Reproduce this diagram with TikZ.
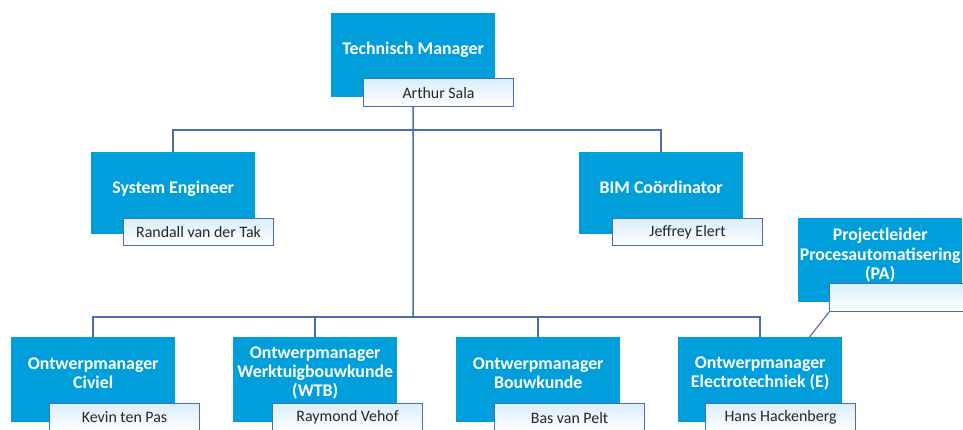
\documentclass[tikz,border=0pt]{standalone}
\usepackage{fontspec}
\setmainfont{Carlito}
\usetikzlibrary{calc}
\definecolor{boxblue}{HTML}{009FDB}
\definecolor{linec}{HTML}{4A6CB3}
\definecolor{lightb}{HTML}{D9EEFB}
\tikzset{
  rolebox/.style={fill=boxblue, draw=none, anchor=north west, inner sep=0pt,
    minimum width=164pt, minimum height=84pt},
  roletext/.style={text=white, font=\fontsize{17.8}{19.3}\selectfont\bfseries, align=center, inner sep=0pt},
  namebox/.style={draw=linec, line width=1.1pt, top color=lightb, bottom color=white,
    anchor=north west, inner sep=0pt, minimum width=150pt, minimum height=28pt,
    font=\fontsize{15.9}{18}\selectfont, text=black!85},
  conn/.style={draw=linec, line width=1.5pt}
}
\begin{document}
\begin{tikzpicture}[x=1pt,y=-1pt]
\useasboundingbox (0,0) rectangle (963,430);
\clip (0,0) rectangle (963,430);
\fill[white] (0,0) rectangle (963,430);
% coordinates of the buses
\coordinate (bus1) at (413,130);
\coordinate (bus2) at (413,317);
% boxes
\node[rolebox] (tm) at (331,13) {};
\node[rolebox, minimum height=82pt] (se) at (91,152) {};
\node[rolebox, minimum height=82pt] (bim) at (579,152) {};
\node[rolebox] (pa) at (798,218) {};
\node[rolebox, minimum height=85pt] (civ) at (11,337) {};
\node[rolebox, minimum height=85pt] (wtb) at (233,337) {};
\node[rolebox, minimum height=85pt] (bk) at (456,337) {};
\node[rolebox, minimum height=85pt] (el) at (678,337) {};
% connectors
\draw[conn] (tm.south) -- (bus2);
\draw[conn] (se.north) |- (bus1) -| (bim.north);
\draw[conn] (civ.north) |- (bus2) -| (el.north);
\draw[conn] (wtb.north) -- (wtb.north |- bus2);
\draw[conn] (bk.north) -- (bk.north |- bus2);
% role texts
\node[roletext] (tmt) at ([yshift=5.5pt]tm.center) {Technisch Manager};
\node[roletext] (set) at ([yshift=4pt]se.center) {System Engineer};
\node[roletext] (bimt) at ([yshift=6pt]bim.center) {BIM Coördinator};
\node[roletext] (pat) at ([yshift=5pt]pa.center) {Projectleider\\Procesautomatisering\\(PA)};
\node[roletext] (civt) at ([yshift=6.5pt]civ.center) {Ontwerpmanager\\Civiel};
\node[roletext] (wtbt) at ([yshift=6.5pt]wtb.center) {Ontwerpmanager\\Werktuigbouwkunde\\(WTB)};
\node[roletext] (bkt) at ([yshift=6.5pt]bk.center) {Ontwerpmanager\\Bouwkunde};
\node[roletext] (elt) at ([yshift=6.5pt]el.center) {Ontwerpmanager\\Electrotechniek (E)};
% name boxes
\node[namebox] (tmn) at (363,78) {Arthur Sala};
\node[namebox, minimum height=27pt] (sen) at (123,218) {Randall van der Tak};
\node[namebox, minimum height=27pt] (bimn) at (612,218) {Jeffrey Elert};
\node[namebox] (pan) at (829,283) {};
\node[namebox] (civn) at (49,403) {Kevin ten Pas};
\node[namebox] (wtbn) at (272,403) {Raymond Vehof};
\node[namebox] (bkn) at (494,403) {Bas van Pelt};
\node[namebox] (eln) at (705,403) {Hans Hackenberg};
% PA connector
\coordinate (elp) at ($(el.north west)!0.8!(el.north east)$);
\draw[draw=linec, line width=1.1pt] (pan.south west) -- (elp);
\end{tikzpicture}
\end{document}
